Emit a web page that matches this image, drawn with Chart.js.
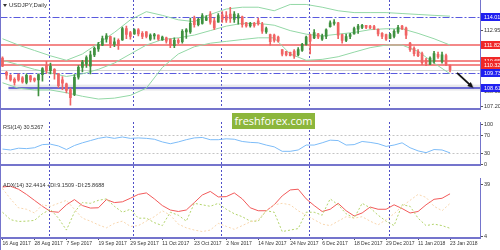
<!DOCTYPE html>
<html>
<head>
<meta charset="utf-8">
<title>USDJPY Daily</title>
<script src="https://cdn.jsdelivr.net/npm/chart.js@4.4.1/dist/chart.umd.min.js"></script>
<style>
  html, body { margin: 0; padding: 0; background: #fff; }
  #box { position: relative; width: 500px; height: 250px; overflow: hidden; background: #fff; }
  #box canvas { position: absolute; left: 0; }
  #price { top: 0; }
  #rsi { top: 122px; }
  #adx { top: 178px; }
  #logo {
    position: absolute; left: 232px; top: 113px; width: 83px; height: 16px;
    background: #8cb63c; color: #fff; font: 11px 'Open Sans', sans-serif;
    line-height: 16px; text-align: center;
  }
</style>
</head>
<body>
<div id="box">
  <canvas id="price" width="500" height="122" style="width:500px;height:122px"></canvas>
  <canvas id="rsi" width="500" height="56" style="width:500px;height:56px"></canvas>
  <canvas id="adx" width="500" height="72" style="width:500px;height:72px"></canvas>
  <div id="logo">freshforex.com</div>
</div>
<script>
// ---- data (one bar per trading day, 16 Aug 2017 .. 23 Jan 2018) ----
const dateTicks = ['16 Aug 2017', '28 Aug 2017', '7 Sep 2017', '19 Sep 2017', '29 Sep 2017',
  '11 Oct 2017', '23 Oct 2017', '2 Nov 2017', '14 Nov 2017', '24 Nov 2017', '6 Dec 2017',
  '18 Dec 2017', '29 Dec 2017', '11 Jan 2018', '23 Jan 2018'];
const tickEvery = 8;          // bars between date labels
const monthStarts = [12, 33, 55, 77, 97];
const slots = 120;            // bars + empty space on the right

const opens = [110.85, 109.78, 109.55, 109.25, 109.60, 109.35, 109.00, 109.50, 109.30, 109.20,
  109.60, 110.30, 109.90, 110.00, 109.65, 109.20, 108.90, 108.45, 108.10, 109.40,
  110.15, 110.40, 110.25, 111.10, 111.55, 111.85, 112.30, 112.50, 111.90, 112.20,
  112.25, 113.10, 112.80, 112.70, 113.00, 112.75, 112.85, 112.30, 112.55, 112.60,
  112.25, 112.40, 112.30, 111.80, 112.20, 112.10, 112.85, 112.85, 113.90, 113.40,
  113.50, 113.75, 114.20, 113.70, 113.60, 114.15, 114.10, 114.20, 113.80, 113.90,
  114.00, 113.55, 113.30, 113.50, 113.70, 113.45, 112.85, 112.65, 112.60, 112.45,
  111.50, 111.35, 111.30, 111.40, 111.10, 111.45, 111.90, 112.60, 112.40, 112.70,
  112.30, 112.50, 113.25, 113.50, 113.55, 112.65, 112.20, 112.50, 112.70, 113.05,
  113.20, 113.35, 113.30, 113.25, 113.05, 112.75, 112.65, 112.35, 112.50, 112.85,
  113.30, 113.15, 112.00, 111.60, 111.35, 111.20, 110.70, 110.40, 110.60, 111.15,
  110.60, 111.05, 110.30];
const highs = [110.96, 109.85, 109.60, 109.35, 109.66, 109.45, 109.66, 109.55, 109.35, 109.66,
  110.14, 110.62, 110.48, 110.05, 109.70, 109.45, 108.95, 108.57, 109.60, 110.28,
  110.69, 111.03, 111.40, 111.70, 112.06, 112.54, 112.72, 112.54, 112.40, 112.33,
  113.22, 113.30, 112.90, 113.09, 113.10, 112.88, 112.88, 112.70, 112.75, 112.62,
  112.54, 112.45, 112.33, 112.40, 112.35, 113.02, 113.10, 113.90, 114.05, 113.91,
  114.25, 114.10, 114.39, 113.91, 114.25, 114.39, 114.39, 114.73, 114.39, 114.25,
  114.05, 113.57, 113.57, 113.57, 113.91, 113.57, 113.22, 112.68, 112.68, 112.54,
  111.51, 111.37, 111.31, 111.51, 111.65, 111.99, 112.54, 112.68, 113.02, 112.74,
  112.68, 113.09, 113.70, 113.78, 113.57, 112.68, 112.68, 112.74, 113.22, 113.43,
  113.43, 113.36, 113.36, 113.36, 113.09, 112.80, 112.68, 112.74, 113.02, 113.36,
  113.36, 113.22, 112.06, 111.72, 111.51, 111.31, 110.83, 110.96, 111.37, 111.31,
  111.31, 111.17, 110.35];
const lows = [110.20, 109.25, 109.10, 108.80, 109.10, 108.95, 108.90, 109.05, 109.05, 107.98,
  109.10, 109.70, 109.66, 109.25, 108.60, 108.45, 108.20, 107.27, 108.00, 109.25,
  109.80, 110.14, 109.65, 110.96, 111.37, 111.80, 112.06, 111.65, 111.72, 111.51,
  112.20, 112.33, 112.30, 112.65, 112.54, 112.33, 112.40, 112.20, 112.30, 112.20,
  112.20, 112.00, 111.65, 111.65, 111.95, 112.00, 112.35, 112.74, 113.22, 113.30,
  113.43, 113.70, 113.43, 113.02, 113.60, 113.57, 113.57, 113.57, 113.57, 113.43,
  113.22, 113.22, 113.22, 113.22, 113.36, 112.74, 112.74, 111.85, 112.06, 112.06,
  111.03, 111.03, 111.03, 110.83, 111.03, 111.37, 111.85, 111.17, 112.33, 112.33,
  112.20, 112.33, 113.22, 113.36, 112.33, 111.99, 112.10, 112.33, 112.68, 112.74,
  113.09, 113.09, 113.09, 113.02, 112.54, 112.33, 112.20, 112.33, 112.40, 112.74,
  113.02, 112.33, 111.37, 111.03, 110.96, 110.35, 110.28, 110.35, 110.48, 110.83,
  110.48, 110.28, 109.80];
const closes = [110.25, 109.55, 109.20, 109.00, 109.20, 109.05, 109.55, 109.20, 109.15, 109.60,
  110.05, 109.90, 110.25, 109.70, 108.75, 108.95, 108.40, 107.85, 109.40, 110.15,
  110.55, 110.90, 111.10, 111.60, 111.90, 112.35, 112.55, 111.95, 112.10, 111.80,
  113.10, 112.65, 112.50, 113.00, 112.70, 112.50, 112.50, 112.60, 112.65, 112.30,
  112.45, 112.15, 111.85, 112.20, 112.05, 112.90, 113.00, 113.50, 113.40, 113.80,
  114.10, 113.95, 113.60, 113.15, 114.10, 113.80, 113.75, 113.85, 114.20, 114.10,
  113.40, 113.30, 113.50, 113.35, 113.45, 112.90, 113.10, 112.10, 112.20, 112.15,
  111.15, 111.10, 111.05, 111.00, 111.50, 111.90, 112.45, 112.15, 112.80, 112.45,
  112.55, 113.00, 113.55, 113.60, 112.60, 112.20, 112.50, 112.65, 113.10, 113.30,
  113.35, 113.20, 113.15, 113.10, 112.70, 112.50, 112.30, 112.65, 112.90, 113.20,
  113.10, 112.60, 111.50, 111.20, 111.05, 110.50, 110.45, 110.85, 111.20, 110.95,
  111.10, 110.40, 109.98];

// Bollinger bands (20, 2), read every 4th bar
const bandStep = 4;
const bandUpper = [112.33, 111.85, 111.44, 111.03, 110.69, 111.17, 111.99, 112.81, 113.77, 114.39,
  114.11, 113.77, 113.63, 114.18, 114.59, 114.73, 114.73, 114.46, 114.94, 114.94,
  114.73, 114.46, 114.32, 114.32, 114.32, 114.25, 114.18, 114.11, 114.05];
const bandMiddle = [110.69, 110.35, 110.00, 109.73, 109.46, 109.66, 110.00, 110.48, 111.17, 111.85,
  112.27, 112.40, 112.61, 112.95, 113.29, 113.50, 113.50, 113.36, 112.95, 112.68,
  112.54, 112.68, 112.81, 113.02, 113.09, 113.09, 112.74, 112.33, 111.85];
const bandLower = [108.98, 108.57, 108.43, 108.43, 108.22, 107.95, 107.74, 107.81, 108.02, 108.57,
  110.14, 111.17, 111.72, 111.99, 112.13, 112.27, 112.40, 112.40, 111.17, 110.69,
  110.76, 110.96, 111.31, 111.65, 111.85, 111.85, 111.37, 110.48, 109.66];

// indicators, read every 2nd bar
const indStep = 2;
const rsiValues = [39, 37, 41, 40, 42, 49, 50, 46, 38, 47, 53, 58, 63, 66, 63, 66, 63, 64, 63, 61,
  55, 51, 55, 60, 64, 65, 60, 60, 62, 61, 56, 54, 53, 48, 44, 34, 34, 37, 48, 48,
  53, 59, 58, 48, 49, 56, 54, 51, 45, 48, 53, 42, 35, 31, 38, 37, 30.5];
const adxValues = [37, 37.5, 35.5, 32, 28, 24, 20.5, 20, 25, 28.5, 24.5, 22.8, 23, 28.5, 26.5, 27, 29.4, 32, 33, 29,
  24.5, 21.5, 20.5, 21.5, 26.5, 31.6, 34, 30.3, 30.5, 33, 29, 23, 21, 21, 25, 31, 35, 35.5, 29, 24.5,
  20.5, 22, 26, 21, 17.5, 19.5, 23.5, 22, 22, 25, 22.5, 19.5, 20.5, 25, 28.7, 29.4, 32.4];
const plusDI = [20, 15, 13.8, 14, 14.5, 19, 22, 16, 8, 20, 26.5, 26, 28, 29, 24, 20, 22, 16, 16, 13,
  11, 20, 18, 14, 26, 25, 24, 26, 22, 19, 17, 14, 14, 21, 20, 7, 8, 9, 20, 20,
  18, 29, 25, 19, 16, 26, 23, 18, 14, 11, 25, 24, 16, 11, 12, 11, 9.2];
const minusDI = [36, 29, 23, 22, 19.5, 25, 24, 26, 28, 22, 16, 14, 11.5, 9.5, 12.5, 14, 10.5, 11, 14, 17,
  21, 18, 12, 9.5, 8, 7, 8, 12.5, 10.5, 8.5, 11, 13.5, 15, 21, 25, 26, 25, 21, 18, 15,
  12, 11, 14, 17, 16, 17, 14, 11.5, 15, 19, 24, 28, 32, 30, 24, 21, 25.9];

// price axis ticks and drawn levels
const priceTicks = [107.20, 108.35, 109.50, 110.65, 111.80, 112.95, 114.10];
const blueLevels = [114.01, 109.73];
const redLevels = [111.82, 110.65, 110.32];
const trendLevel = 108.61;
const trendStart = 1.5;
const bidPrice = 109.98;
const arrowFrom = { x: 113.75, y: 109.73 };
const arrowTo = { x: 117.75, y: 108.61 };
const rsiLevels = [30, 70];
const adxTicks = [4, 39];

const titleText = 'USDJPY,Daily';
const rsiText = 'RSI(14) 30.5267';
const adxText = 'ADX(14) 32.4414 +DI:9.1509 -DI:25.8688';

// ---- styling ----
const frame = '#7474cc';
const up = '#3f913f', down = '#f06464';
const small = { family: 'Liberation Sans, Arial, sans-serif', size: 5.5 };
const sampled = (vals, step) => vals.map((v, k) => ({ x: k * step, y: v }));
const barColor = (c) => closes[c.dataIndex] >= opens[c.dataIndex] ? up : down;

const base = {
  responsive: false, animation: false, devicePixelRatio: 1, events: [],
  plugins: { legend: { display: false }, tooltip: { enabled: false } }
};

function xAxis(show) {
  return {
    type: 'linear', min: -0.5, max: slots - 0.5, offset: false, display: show,
    grid: { display: show, drawOnChartArea: false, tickLength: 2, tickColor: '#555' },
    border: { display: show, color: frame, width: 2 },
    afterBuildTicks: s => { s.ticks = dateTicks.map((_, k) => ({ value: k * tickEvery })); },
    ticks: {
      autoSkip: false, maxRotation: 0, minRotation: 0, align: 'start', padding: 1,
      font: { family: small.family, size: 5 }, color: '#333',
      callback: v => dateTicks[v / tickEvery]
    },
    afterFit: s => { s.height = 12; s.paddingLeft = 0; s.paddingRight = 0; }
  };
}

function yAxis(min, max, tickVals, label) {
  return {
    position: 'right', min, max,
    grid: { drawOnChartArea: false, tickLength: 3, tickColor: '#555' },
    border: { color: frame, width: 1 },
    afterBuildTicks: s => { s.ticks = tickVals.map(v => ({ value: v })); },
    ticks: { font: small, color: '#333', padding: 1, callback: label },
    afterFit: s => { s.width = 20; s.paddingTop = 0; s.paddingBottom = 0; }
  };
}

// dotted month separators, drawn over the whole panel height
function monthLines(ctx, x, top, bottom) {
  ctx.save();
  ctx.strokeStyle = '#5050c8';
  ctx.lineWidth = 1;
  ctx.setLineDash([2, 2]);
  monthStarts.forEach(i => {
    const px = Math.round(x.getPixelForValue(i)) - 0.5;
    ctx.beginPath(); ctx.moveTo(px, top); ctx.lineTo(px, bottom); ctx.stroke();
  });
  ctx.restore();
}

function hline(ctx, x0, x1, py, color, width, dash) {
  const yy = width % 2 ? Math.round(py) + 0.5 : Math.round(py);
  ctx.save();
  ctx.strokeStyle = color; ctx.lineWidth = width; ctx.setLineDash(dash);
  ctx.beginPath(); ctx.moveTo(x0, yy); ctx.lineTo(x1, yy); ctx.stroke();
  ctx.restore();
}

function leftEdge(chart) {
  chart.ctx.fillStyle = frame;
  chart.ctx.fillRect(0, 0, 1, chart.height);
}

// ---- price panel ----
const priceDecor = {
  id: 'priceDecor',
  beforeDatasetsDraw(chart) {
    const { ctx, chartArea: a, scales: { x, y } } = chart;
    monthLines(ctx, x, a.top, a.bottom);
    hline(ctx, a.left, a.right, y.getPixelForValue(bidPrice), '#d2d2d2', 1, []);
    const tx = x.getPixelForValue(trendStart);
    const ty = y.getPixelForValue(trendLevel);
    ctx.fillStyle = 'rgba(190,190,200,0.35)';
    ctx.fillRect(tx, ty - 3, a.right - tx, 6);
    hline(ctx, tx, a.right, ty, '#6c6cd4', 2, []);
    redLevels.forEach(p => hline(ctx, a.left, a.right, y.getPixelForValue(p), '#f48888', 2, []));
    blueLevels.forEach(p => hline(ctx, a.left, a.right, y.getPixelForValue(p), '#5a5ade', 1, [7, 2, 2, 2]));
  },
  afterDraw(chart) {
    const { ctx, chartArea: a, scales: { x, y } } = chart;
    ctx.save();
    // arrow
    const x0 = x.getPixelForValue(arrowFrom.x), y0 = y.getPixelForValue(arrowFrom.y);
    const x1 = x.getPixelForValue(arrowTo.x), y1 = y.getPixelForValue(arrowTo.y);
    const ang = Math.atan2(y1 - y0, x1 - x0);
    ctx.shadowColor = 'rgba(0,0,0,0.35)'; ctx.shadowOffsetX = 1; ctx.shadowOffsetY = 1; ctx.shadowBlur = 1;
    ctx.strokeStyle = '#111'; ctx.fillStyle = '#111'; ctx.lineWidth = 1.6;
    ctx.beginPath(); ctx.moveTo(x0, y0);
    ctx.lineTo(x1 - 4 * Math.cos(ang), y1 - 4 * Math.sin(ang)); ctx.stroke();
    ctx.beginPath(); ctx.moveTo(x1, y1);
    ctx.lineTo(x1 - 6 * Math.cos(ang - 0.45), y1 - 6 * Math.sin(ang - 0.45));
    ctx.lineTo(x1 - 6 * Math.cos(ang + 0.45), y1 - 6 * Math.sin(ang + 0.45));
    ctx.closePath(); ctx.fill();
    ctx.restore();

    ctx.save();
    // price boxes on the axis
    ctx.font = `${small.size}px ${small.family}`;
    ctx.textBaseline = 'middle';
    const boxes = [
      ...blueLevels.map(p => [p, '#2020f0']),
      ...redLevels.map(p => [p, '#f02828']),
      [trendLevel, '#2020f0']
    ];
    boxes.forEach(([p, c]) => {
      const py = Math.round(y.getPixelForValue(p));
      ctx.fillStyle = c; ctx.fillRect(a.right + 1, py - 4, 19, 8);
      ctx.fillStyle = '#fff'; ctx.fillText(p.toFixed(2), a.right + 4, py + 0.5);
    });
    // title
    ctx.fillStyle = '#333';
    ctx.beginPath(); ctx.moveTo(3, 4); ctx.lineTo(7, 4); ctx.lineTo(5, 7); ctx.closePath(); ctx.fill();
    ctx.font = `6px ${small.family}`;
    ctx.fillText(titleText, 9, 5.5);
    // frame + separator
    leftEdge(chart);
    ctx.fillStyle = frame;
    ctx.fillRect(0, a.bottom, a.right + 1, 2);
    ctx.restore();
  }
};

new Chart(document.getElementById('price'), {
  type: 'bar',
  data: {
    datasets: [
      { type: 'line', data: sampled(bandUpper, bandStep), borderColor: '#93d8a6', borderWidth: 1, pointRadius: 0, order: 3 },
      { type: 'line', data: sampled(bandMiddle, bandStep), borderColor: '#93d8a6', borderWidth: 1, pointRadius: 0, order: 3 },
      { type: 'line', data: sampled(bandLower, bandStep), borderColor: '#93d8a6', borderWidth: 1, pointRadius: 0, order: 3 },
      { data: opens.map((o, i) => ({ x: i, y: [lows[i], highs[i]] })), barThickness: 1, grouped: false,
        backgroundColor: barColor, borderWidth: 0, order: 2 },
      { data: opens.map((o, i) => ({ x: i, y: [o, closes[i]] })), barThickness: 2, grouped: false,
        backgroundColor: barColor, borderWidth: 0, order: 1 }
    ]
  },
  options: {
    ...base,
    layout: { padding: { left: 0.5, top: 0, right: 0, bottom: 2 } },
    scales: {
      x: xAxis(false),
      y: yAxis(107.059, 115.279, priceTicks, v => v.toFixed(2))
    }
  },
  plugins: [priceDecor]
});

// ---- RSI panel ----
const rsiTop = 95, rsiBottom = 5.65;
const rsiDecor = {
  id: 'rsiDecor',
  beforeDatasetsDraw(chart) {
    const { ctx, chartArea: a, scales: { x, y } } = chart;
    monthLines(ctx, x, 0, chart.height);
    rsiLevels.forEach(v => hline(ctx, a.left, a.right, y.getPixelForValue(v), '#c4c4c4', 1, [2, 2]));
  },
  afterDraw(chart) {
    const { ctx, chartArea: a } = chart;
    ctx.save();
    ctx.fillStyle = '#333';
    ctx.font = `${small.size}px ${small.family}`;
    ctx.textBaseline = 'middle';
    ctx.fillText(rsiText, 3, 5);
    leftEdge(chart);
    ctx.fillStyle = frame;
    ctx.fillRect(0, a.bottom, a.right + 1, 2);
    ctx.restore();
  }
};

new Chart(document.getElementById('rsi'), {
  type: 'line',
  data: {
    datasets: [
      { data: sampled(rsiValues, indStep), borderColor: '#7dbcf8', borderWidth: 1, pointRadius: 0 }
    ]
  },
  options: {
    ...base,
    layout: { padding: { left: 0.5, top: 0, right: 0, bottom: 2 } },
    scales: {
      x: xAxis(false),
      y: yAxis(rsiBottom, 99.57, [rsiBottom, ...rsiLevels, rsiTop],
        v => v === rsiTop ? '100' : v === rsiBottom ? '0' : String(v))
    }
  },
  plugins: [rsiDecor]
});

// ---- ADX panel ----
const adxDecor = {
  id: 'adxDecor',
  beforeDatasetsDraw(chart) {
    const { ctx, chartArea: a, scales: { x } } = chart;
    monthLines(ctx, x, 0, a.bottom);
  },
  afterDraw(chart) {
    const { ctx } = chart;
    ctx.save();
    ctx.fillStyle = '#333';
    ctx.font = `${small.size}px ${small.family}`;
    ctx.textBaseline = 'middle';
    ctx.fillText(adxText, 3, 7);
    leftEdge(chart);
    ctx.restore();
  }
};

new Chart(document.getElementById('adx'), {
  type: 'line',
  data: {
    datasets: [
      { data: sampled(minusDI, indStep), borderColor: '#f8d6ae', borderWidth: 1, borderDash: [2, 2], pointRadius: 0 },
      { data: sampled(plusDI, indStep), borderColor: '#b2d36a', borderWidth: 1, borderDash: [2, 2], pointRadius: 0 },
      { data: sampled(adxValues, indStep), borderColor: '#f25a5a', borderWidth: 1, pointRadius: 0 }
    ]
  },
  options: {
    ...base,
    layout: { padding: { left: 0.5, top: 0, right: 0, bottom: 0 } },
    scales: {
      x: xAxis(true),
      y: yAxis(2.66, 43.04, adxTicks, v => String(v))
    }
  },
  plugins: [adxDecor]
});
</script>
</body>
</html>
